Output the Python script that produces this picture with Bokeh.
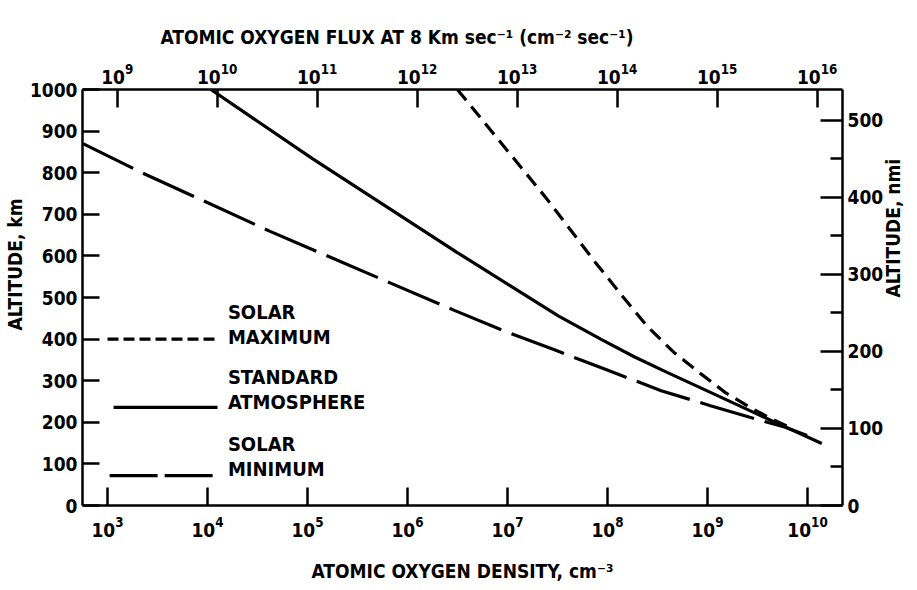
from bokeh.plotting import figure
from bokeh.models import (LogAxis, LinearAxis, Range1d, FixedTicker, Label, LogScale, Title)
from bokeh.embed import file_html
from bokeh.resources import INLINE
import math

# ---- data ----
# Atomic oxygen density (cm^-3) vs altitude (km)
std_density = [1.08e4, 1.12e5, 3.15e6, 1.05e7, 3.25e7, 8.83e7, 1.87e8, 3.94e8,
               1.07e9, 2.65e9, 5.61e9, 1.39e10]
std_alt_km = [1000, 834, 608, 529, 455, 398, 357, 320, 272, 228, 192, 149]

max_density = [3.15e6, 2.42e7, 7.53e7, 1.39e8, 2.51e8, 4.62e8, 8.53e8, 1.54e9,
               2.84e9, 4.47e9, 7.03e9]
max_alt_km = [1000, 740, 585, 505, 430, 368, 317, 270, 232, 207, 185]

min_density = [5.68e2, 2.21e3, 4.23e4, 6.87e5, 2.94e6, 9.14e6, 3.04e7, 1.01e8,
               3.44e8, 1.07e9, 2.65e9, 6.0e9, 9.9e9]
min_alt_km = [870, 800, 659, 534, 469, 420, 373, 325, 276, 240, 212, 188, 168]

density_ticks = [1e3, 1e4, 1e5, 1e6, 1e7, 1e8, 1e9, 1e10]
flux_ticks = [1e9, 1e10, 1e11, 1e12, 1e13, 1e14, 1e15, 1e16]
km_ticks = [0, 100, 200, 300, 400, 500, 600, 700, 800, 900, 1000]
nmi_ticks = [0, 100, 200, 300, 400, 500]
nmi_minor = [50, 150, 250, 350, 450]

legend_names = [["SOLAR", "MAXIMUM"], ["STANDARD", "ATMOSPHERE"], ["SOLAR", "MINIMUM"]]

VELOCITY_CM_S = 8e5          # 8 km/s
KM_PER_NMI = 1.852
X_MIN, X_MAX = 10 ** 2.75, 10 ** 10.35
Y_MAX_KM = 1000

FONT = "DejaVu Sans Condensed"

p = figure(width=917, height=590, x_axis_type="log",
           x_range=Range1d(X_MIN, X_MAX), y_range=Range1d(0, Y_MAX_KM),
           output_backend="svg", toolbar_location=None,
           min_border_left=80, min_border_right=71,
           min_border_top=89, min_border_bottom=85,
           background_fill_color="white", border_fill_color="white")
p.outline_line_color = None
p.grid.visible = False

# top title (left of centre, as in the original)
p.title.text = "ATOMIC OXYGEN FLUX AT 8 Km sec\u207b\u00b9 (cm\u207b\u00b2 sec\u207b\u00b9)"
p.title.align = "left"
p.title.offset = 78
p.title.text_font = FONT
p.title.text_font_style = "bold"
p.title.text_font_size = "19px"
p.title.text_color = "black"
p.title.standoff = 24

p.extra_x_ranges = {"flux": Range1d(X_MIN * VELOCITY_CM_S, X_MAX * VELOCITY_CM_S)}
p.extra_x_scales = {"flux": LogScale()}
p.extra_y_ranges = {"nmi": Range1d(0, Y_MAX_KM / KM_PER_NMI)}

def style(ax, tick_in, minor_in=0):
    ax.axis_line_width = 2.5
    ax.axis_line_color = "black"
    ax.major_tick_in = tick_in
    ax.major_tick_out = 0
    ax.major_tick_line_width = 2.5
    ax.minor_tick_in = minor_in
    ax.minor_tick_out = 0
    ax.minor_tick_line_width = 2.5
    ax.major_label_text_font = FONT
    ax.major_label_text_font_style = "bold"
    ax.major_label_text_font_size = "19px"
    ax.major_label_text_color = "black"
    ax.axis_label_text_font = FONT
    ax.axis_label_text_font_style = "bold"
    ax.axis_label_text_font_size = "19px"
    ax.axis_label_text_color = "black"

def title_axis(text, standoff, orientation=None):
    ax = LinearAxis(ticker=FixedTicker(ticks=[], minor_ticks=[]), axis_label=text)
    style(ax, 0)
    ax.axis_line_color = None
    ax.major_label_standoff = 0
    ax.axis_label_standoff = standoff
    if orientation is not None:
        ax.axis_label_orientation = orientation
    return ax

# bottom axis
xb = p.xaxis[0]
xb.ticker = FixedTicker(ticks=density_ticks, minor_ticks=[])
xb.axis_label = "ATOMIC OXYGEN DENSITY, cm\u207b\u00b3"
style(xb, 18)
xb.major_label_standoff = 10
xb.axis_label_standoff = 20

# left axis (ticks); its title sits a little above centre, as in the original
yl = p.yaxis[0]
yl.ticker = FixedTicker(ticks=km_ticks, minor_ticks=[])
style(yl, 17)
yl.major_label_standoff = 5
p.add_layout(Title(text="ALTITUDE, km", align="left", offset=175, standoff=2,
                   text_font=FONT, text_font_style="bold", text_font_size="19px",
                   text_color="black"), "left")

# top axis (flux)
xt = LogAxis(x_range_name="flux",
             ticker=FixedTicker(ticks=flux_ticks, minor_ticks=[]))
style(xt, 18)
xt.major_label_standoff = 6
p.add_layout(xt, "above")

# right axis (nmi) and its bottom-to-top title
yr = LinearAxis(y_range_name="nmi",
                ticker=FixedTicker(ticks=nmi_ticks, minor_ticks=nmi_minor))
style(yr, 22, 12)
yr.major_label_standoff = 5
p.add_layout(yr, "right")
p.add_layout(title_axis("ALTITUDE, nmi", 6, math.pi / 2), "right")

# curves
p.line(max_density, max_alt_km, line_color="black", line_width=3.2, line_dash="14 8")
p.line(std_density, std_alt_km, line_color="black", line_width=3.2)
p.line(min_density, min_alt_km, line_color="black", line_width=3.2, line_dash="56 11")

# legend (drawn in-plot like the original)
LEG_X1, LEG_TX = 1.26e4, 1.6e4
p.line([1.0e3, LEG_X1], [400, 400], line_color="black", line_width=3.2, line_dash="11 5")
p.line([1.15e3, LEG_X1], [236, 236], line_color="black", line_width=3.2)
p.line([1.05e3, LEG_X1], [72, 72], line_color="black", line_width=3.2, line_dash="48 7")

for (top, bottom), y_top, y_bot in zip(legend_names, [464, 308, 149], [404, 248, 87]):
    for txt, y in [(top, y_top), (bottom, y_bot)]:
        p.add_layout(Label(x=LEG_TX, y=y, text=txt, text_font=FONT, text_font_style="bold",
                           text_font_size="20px", text_baseline="middle", text_color="black"))

open("out.html", "w").write(file_html(p, INLINE))
